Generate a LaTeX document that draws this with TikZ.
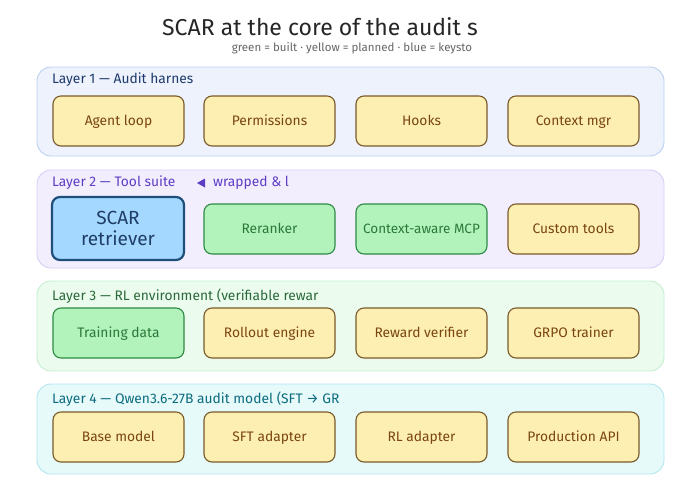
\documentclass[tikz,border=0pt]{standalone}
\usepackage{fontspec}
\setmainfont{Fira Sans}
\definecolor{ybg}{HTML}{FDEFB2}
\definecolor{ybd}{HTML}{7A5A2A}
\definecolor{ytx}{HTML}{7A4510}
\definecolor{gbg}{HTML}{B2F2BB}
\definecolor{gbd}{HTML}{2F8A44}
\definecolor{gtx}{HTML}{2B7A3A}
\definecolor{bbg}{HTML}{A5D8FF}
\definecolor{bbd}{HTML}{1E4F7A}
\definecolor{btx}{HTML}{1F3E66}
\definecolor{lbgA}{HTML}{EEF2FD}
\definecolor{lbdA}{HTML}{B9D1F1}
\definecolor{ltxA}{HTML}{1E3A6A}
\definecolor{lbgB}{HTML}{F2EEFE}
\definecolor{lbdB}{HTML}{D8CEF6}
\definecolor{ltxB}{HTML}{5F3DC4}
\definecolor{lbgC}{HTML}{EBFBEE}
\definecolor{lbdC}{HTML}{C4EECF}
\definecolor{ltxC}{HTML}{2B6A3A}
\definecolor{lbgD}{HTML}{E6FAF9}
\definecolor{lbdD}{HTML}{B3E6EE}
\definecolor{ltxD}{HTML}{0C6B80}
\tikzset{
  layerbox/.style={draw=#1, line width=0.9pt, rounded corners=14pt},
  layerlabel/.style={anchor=west, font=\fontsize{13.8}{16}\selectfont, text=#1, inner sep=0pt},
  ynode/.style={draw=ybd, fill=ybg, text=ytx, line width=1.1pt, rounded corners=8pt,
    minimum width=131pt, minimum height=50pt, font=\fontsize{13.8}{16}\selectfont, inner sep=0pt,
    text height=10.5pt, text depth=1.5pt},
  gnode/.style={ynode, draw=gbd, fill=gbg, text=gtx},
  bnode/.style={ynode, draw=bbd, fill=bbg, text=btx, line width=2.2pt, text height=, text depth=,
    minimum width=132pt, minimum height=63pt, font=\fontsize{19}{21}\selectfont, align=center},
}
\begin{document}
\begin{tikzpicture}[x=1pt,y=-1pt]
\useasboundingbox[fill=white] (0,0) rectangle (680,493);
\node[font=\fontsize{23}{26}\selectfont, text=black!85] (title) at (320,27) {SCAR at the core of the audit s};
\node[font=\fontsize{11.5}{13}\selectfont, text=black!60] (sub) at (352,48) {green = built · yellow = planned · blue = keysto};

% Layer 1
\draw[layerbox=lbdA, fill=lbgA] (37,67) rectangle (664,156);
\node[layerlabel=ltxA] (l1) at (52,80) {Layer 1 — Audit harnes};
\node[ynode] (a1) at (118.5,121) {Agent loop};
\node[ynode] (a2) at (269.5,121) {Permissions};
\node[ynode] (a3) at (421.5,121) {Hooks};
\node[ynode] (a4) at (573.5,121) {Context mgr};

% Layer 2
\draw[layerbox=lbdB, fill=lbgB] (37,170) rectangle (664,268);
\node[layerlabel=ltxB] (l2) at (52,183) {Layer 2 — Tool suite};
\fill[ltxB] (197,183) -- (205,178.5) -- (205,187.5) -- cycle;
\node[layerlabel=ltxB] (l2b) at (213,183) {wrapped \& l};
\node[bnode] (b1) at (118,228.5) {SCAR\\retriever};
\node[gnode] (b2) at (269.5,229) {Reranker};
\node[gnode, font=\fontsize{13.5}{16}\selectfont] (b3) at (421.5,229) {Context-aware MCP};
\node[ynode] (b4) at (573.5,229) {Custom tools};

% Layer 3
\draw[layerbox=lbdC, fill=lbgC] (37,281) rectangle (664,371);
\node[layerlabel=ltxC] (l3) at (52,296) {Layer 3 — RL environment (verifiable rewar};
\node[gnode] (c1) at (118.5,333) {Training data};
\node[ynode] (c2) at (269.5,333) {Rollout engine};
\node[ynode] (c3) at (421.5,333) {Reward verifier};
\node[ynode] (c4) at (573.5,333) {GRPO trainer};

% Layer 4
\draw[layerbox=lbdD, fill=lbgD] (37,384) rectangle (664,474);
\node[layerlabel=ltxD] (l4) at (52,399) {Layer 4 — Qwen3.6-27B audit model (SFT → GR};
\node[ynode] (d1) at (118.5,437) {Base model};
\node[ynode] (d2) at (269.5,437) {SFT adapter};
\node[ynode] (d3) at (421.5,437) {RL adapter};
\node[ynode] (d4) at (573.5,437) {Production API};
\end{tikzpicture}
\end{document}
